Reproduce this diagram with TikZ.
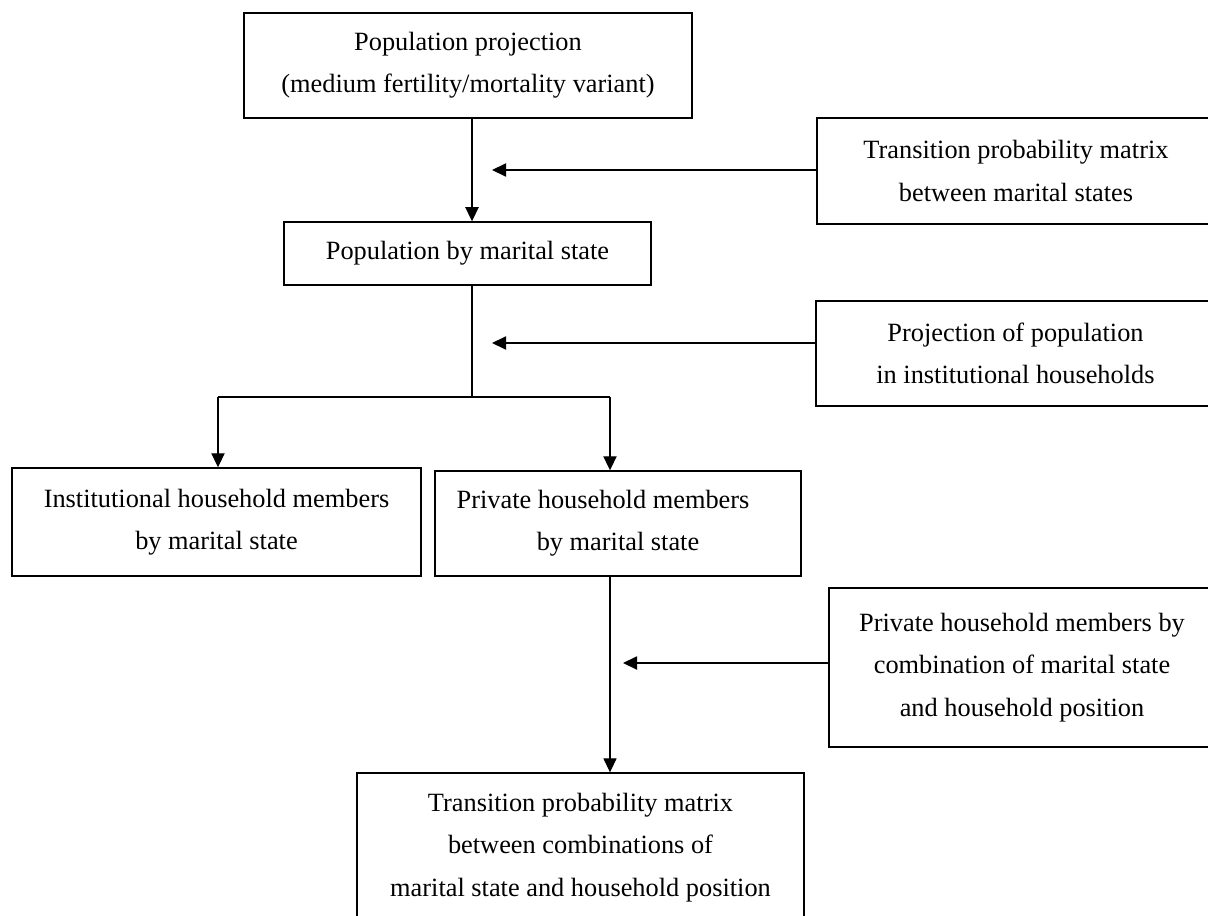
\documentclass[tikz,border=0pt]{standalone}
\usepackage{fontspec}
\setmainfont{Liberation Serif}
\usepackage{tikz}
\usetikzlibrary{arrows.meta}

\tikzset{
  flowbox/.style={draw, line width=0.8pt, align=center, inner sep=0pt,
    font=\fontsize{15}{24}\selectfont},
  flowarrow/.style={-{Triangle[length=8pt,width=7.5pt]}, line width=0.8pt},
  trunk/.style={line width=1.1pt}
}

\begin{document}
\begin{tikzpicture}[x=0.02cm, y=-0.02cm]
        \useasboundingbox (0,0) rectangle (1208,916);

        % Main chain
        \node[flowbox, minimum width=8.96cm, minimum height=2.10cm] (proj) at (468,65.5)
            {Population projection\\(medium fertility/mortality variant)};
        \node[flowbox, minimum width=7.34cm, minimum height=1.26cm] (marital) at (467.5,253.5)
            {Population by marital state};
        \node[flowbox, minimum width=8.18cm, minimum height=2.16cm] (instmem) at (216.5,522)
            {Institutional household members\\by marital state};
        \node[flowbox, minimum width=7.32cm, minimum height=2.10cm] (privmem) at (618,523.5)
            {Private household members\hspace*{0.6cm}\\by marital state};
        \node[flowbox, minimum width=8.94cm, minimum height=2.98cm] (tpmcomb) at (580.5,847.5)
            {Transition probability matrix\\between combinations of\\marital state and household position};

        % Inputs on the right
        \node[flowbox, minimum width=7.96cm, minimum height=2.12cm] (tpmmar) at (1016,171)
            {Transition probability matrix\\between marital states};
        \node[flowbox, minimum width=7.98cm, minimum height=2.10cm] (instproj) at (1015.5,353.5)
            {Projection of population\\in institutional households};
        \node[flowbox, minimum width=7.72cm, minimum height=3.18cm] (combo) at (1022,667.5)
            {Private household members by\\combination of marital state\\and household position};

        % Points on the trunk
        \coordinate (feedA) at (492,170);
        \coordinate (feedB) at (492,343);
        \coordinate (feedC) at (623,663);
        \coordinate (split) at (472,397);
        \coordinate (splitL) at (218,397);
        \coordinate (splitR) at (610,397);

        % Connectors
        \draw[flowarrow] (proj.south -| split) -- (marital.north -| split);
        \draw[flowarrow] (tpmmar.west |- feedA) -- (feedA);
        \draw[trunk] (marital.south -| split) -- (split);
        \draw[flowarrow] (instproj.west |- feedB) -- (feedB);
        \draw[trunk] (splitL) -- (splitR);
        \draw[flowarrow] (splitL) -- (instmem.north -| splitL);
        \draw[flowarrow] (splitR) -- (privmem.north -| splitR);
        \draw[flowarrow, line width=0.6pt] (privmem.south -| splitR) -- (tpmcomb.north -| splitR);
        \draw[flowarrow] (combo.west |- feedC) -- (feedC);

    \end{tikzpicture}
\end{document}
